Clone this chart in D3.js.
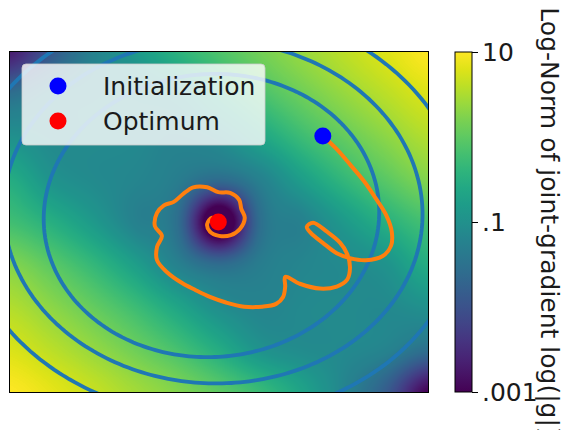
<!DOCTYPE html>
<html>
<head>
<meta charset="utf-8">
<script src="https://cdn.jsdelivr.net/npm/d3@7"></script>
<style>
  body { margin: 0; background: #fff; }
  text { font-family: "DejaVu Sans", sans-serif; }
</style>
</head>
<body>
<div id="chart"></div>
<script>
// ---- data ----
// heatmap grid: log10 of the joint-gradient norm
var gridX = [-3, -2.4, -1.8, -1.2, -0.6, 0, 0.6, 1.2, 1.8, 2.4, 3];
var gridY = [2.45, 1.8375, 1.225, 0.6125, 0, -0.6125, -1.225, -1.8375, -2.45];
var logNorm = [
  [-2.7, -1.9, -1.25, -0.86, -0.44, -0.12, 0.15, 0.38, 0.6, 0.8, 1.0],
  [-1.55, -1.22, -1.12, -1.08, -0.95, -0.54, -0.17, 0.12, 0.37, 0.59, 0.78],
  [-1.0, -1.12, -1.1, -1.12, -1.2, -1.05, -0.65, -0.26, 0.05, 0.31, 0.54],
  [-0.54, -0.95, -1.1, -1.18, -1.32, -1.6, -1.25, -0.77, -0.35, -0.02, 0.25],
  [-0.22, -0.5, -0.85, -1.25, -1.55, -3.5, -1.55, -1.25, -0.85, -0.48, -0.18],
  [0.25, -0.02, -0.35, -0.77, -1.25, -1.6, -1.32, -1.18, -1.1, -0.95, -0.54],
  [0.54, 0.31, 0.05, -0.26, -0.65, -1.05, -1.2, -1.12, -1.1, -1.12, -1.0],
  [0.78, 0.59, 0.37, 0.12, -0.17, -0.54, -0.95, -1.08, -1.12, -1.22, -1.55],
  [1.0, 0.85, 0.66, 0.45, 0.25, 0.0, -0.3, -0.7, -1.2, -1.85, -3.0]
];

// points read on the three loss contours
var innerPts = [[-2.50, 0.06], [-2.40, 0.60], [-2.11, 1.14], [-1.71, 1.61], [-1.13, 1.93], [-0.27, 2.11],
  [0.69, 2.04], [1.64, 1.58], [2.05, 1.06], [2.21, 0.39], [2.20, -0.22], [2.10, -0.69], [1.85, -1.16],
  [1.38, -1.55], [0.66, -1.81], [-0.01, -1.87], [-0.92, -1.80], [-1.49, -1.62], [-1.97, -1.31],
  [-2.25, -0.93], [-2.45, -0.45]];
var middlePts = [[-2.97, -0.65], [-2.60, -1.22], [-2.11, -1.59], [-1.39, -1.98], [-0.67, -2.23],
  [-0.01, -2.34], [0.66, -2.31], [1.38, -2.08], [1.95, -1.74], [2.43, -1.26], [2.71, -0.69], [2.81, 0.03],
  [2.78, 0.63], [2.60, 1.35], [2.21, 1.82], [1.64, 2.16], [-1.42, 2.28], [-2.97, 1.03]];
var outerPts = [[1.41, 2.44], [1.88, 2.26], [2.35, 1.93], [2.74, 1.58], [3.0, 1.36], [3.0, -1.59],
  [2.43, -2.08], [1.95, -2.44], [-2.31, -2.45], [-2.68, -2.13], [-2.97, -1.94], [-2.97, 2.26], [-2.74, 2.44]];

// optimisation trajectory
var trajectory = [[1.49, 1.24], [1.68, 1.06], [1.88, 0.83], [2.08, 0.59], [2.25, 0.34], [2.40, 0.10],
  [2.48, -0.14], [2.47, -0.34], [2.35, -0.49], [2.11, -0.55], [1.88, -0.52], [1.69, -0.45], [1.49, -0.30],
  [1.32, -0.16], [1.26, -0.07], [1.35, -0.01], [1.55, -0.14], [1.74, -0.30], [1.84, -0.46], [1.88, -0.66],
  [1.84, -0.83], [1.69, -0.93], [1.45, -0.96], [1.16, -0.89], [0.95, -0.79], [0.95, -0.93], [0.92, -1.08],
  [0.82, -1.18], [0.62, -1.22], [0.36, -1.22], [0.10, -1.16], [-0.13, -1.08], [-0.34, -0.98], [-0.53, -0.88],
  [-0.75, -0.72], [-0.89, -0.55], [-0.89, -0.36], [-0.82, -0.20], [-0.92, -0.06], [-0.89, 0.13],
  [-0.79, 0.24], [-0.65, 0.29], [-0.52, 0.40], [-0.37, 0.50], [-0.17, 0.50], [-0.01, 0.43], [0.16, 0.42],
  [0.29, 0.32], [0.32, 0.19], [0.37, 0.06], [0.30, -0.10], [0.17, -0.19], [0.00, -0.20], [-0.13, -0.14],
  [-0.17, -0.03], [-0.10, 0.06], [-0.01, 0.0]];

var initPoint = [1.49, 1.24];
var optimumPoint = [-0.01, 0.0];
var legendLabels = ["Initialization", "Optimum"];
var legendColors = ["blue", "red"];
var cbTicks = [10, 0.1, 0.001];
var cbTickLabels = ["10", ".1", ".001"];
var cbLabel = "Log-Norm of joint-gradient log(|g|)";

// ---- layout ----
var width = 562, height = 430;
var plot = {left: 10, top: 52, width: 418, height: 340};
var fontSize = 25;

var x = d3.scaleLinear().domain([-3, 3]).range([plot.left, plot.left + plot.width]);
var y = d3.scaleLinear().domain([-2.45, 2.45]).range([plot.top + plot.height, plot.top]);
var color = d3.scaleSequential(d3.interpolateViridis).domain([-3, 1]).clamp(true);

var svg = d3.select("#chart").append("svg")
  .attr("width", width)
  .attr("height", height);

svg.append("rect").attr("width", width).attr("height", height).attr("fill", "#fff");

svg.append("clipPath").attr("id", "plotclip")
  .append("rect")
  .attr("x", plot.left).attr("y", plot.top)
  .attr("width", plot.width).attr("height", plot.height);

// ---- heatmap (bicubic between grid nodes) ----
var canvas = document.createElement("canvas");
canvas.width = plot.width;
canvas.height = plot.height;
var ctx = canvas.getContext("2d");
var img = ctx.createImageData(plot.width, plot.height);

var gi = d3.scaleLinear().domain([gridX[0], gridX[gridX.length - 1]]).range([0, gridX.length - 1]);
var gj = d3.scaleLinear().domain([gridY[0], gridY[gridY.length - 1]]).range([0, gridY.length - 1]);
var nx = gridX.length, ny = gridY.length;

function cell(j, i) {
  j = Math.max(0, Math.min(ny - 1, j));
  i = Math.max(0, Math.min(nx - 1, i));
  return logNorm[j][i];
}
function cubic(p0, p1, p2, p3, t) {
  return 0.5 * (2 * p1 + (-p0 + p2) * t + (2 * p0 - 5 * p1 + 4 * p2 - p3) * t * t +
    (-p0 + 3 * p1 - 3 * p2 + p3) * t * t * t);
}

// colour lookup table
var lut = [];
for (var k = 0; k < 256; k++) {
  lut.push(d3.rgb(color(-3 + 4 * k / 255)));
}

for (var py = 0; py < plot.height; py++) {
  var fj = Math.max(0, Math.min(ny - 1, gj(y.invert(plot.top + py + 0.5))));
  var j0 = Math.min(ny - 2, Math.floor(fj));
  var ty = fj - j0;
  for (var px = 0; px < plot.width; px++) {
    var fi = Math.max(0, Math.min(nx - 1, gi(x.invert(plot.left + px + 0.5))));
    var i0 = Math.min(nx - 2, Math.floor(fi));
    var tx = fi - i0;
    var rows = [];
    for (var m = -1; m <= 2; m++) {
      rows.push(cubic(cell(j0 + m, i0 - 1), cell(j0 + m, i0), cell(j0 + m, i0 + 1), cell(j0 + m, i0 + 2), tx));
    }
    var v = cubic(rows[0], rows[1], rows[2], rows[3], ty);
    var idx = Math.round(Math.max(0, Math.min(1, (v + 3) / 4)) * 255);
    var c = lut[idx];
    var o = (py * plot.width + px) * 4;
    img.data[o] = c.r; img.data[o + 1] = c.g; img.data[o + 2] = c.b; img.data[o + 3] = 255;
  }
}
ctx.putImageData(img, 0, 0);

svg.append("image")
  .attr("x", plot.left).attr("y", plot.top)
  .attr("width", plot.width).attr("height", plot.height)
  .attr("preserveAspectRatio", "none")
  .attr("href", canvas.toDataURL());

// ---- contours: least-squares ellipse through the read points ----
// a x^2 + b xy + c y^2 + d x + e y = 1
function fitConic(pts) {
  var M = [], rhs = [0, 0, 0, 0, 0];
  for (var r = 0; r < 5; r++) M.push([0, 0, 0, 0, 0]);
  pts.forEach(function(p) {
    var row = [p[0] * p[0], p[0] * p[1], p[1] * p[1], p[0], p[1]];
    for (var r = 0; r < 5; r++) {
      rhs[r] += row[r];
      for (var s = 0; s < 5; s++) M[r][s] += row[r] * row[s];
    }
  });
  // gaussian elimination
  for (var col = 0; col < 5; col++) {
    var piv = col;
    for (var r2 = col + 1; r2 < 5; r2++) if (Math.abs(M[r2][col]) > Math.abs(M[piv][col])) piv = r2;
    var tmp = M[col]; M[col] = M[piv]; M[piv] = tmp;
    var t2 = rhs[col]; rhs[col] = rhs[piv]; rhs[piv] = t2;
    for (var r3 = col + 1; r3 < 5; r3++) {
      var f = M[r3][col] / M[col][col];
      for (var s2 = col; s2 < 5; s2++) M[r3][s2] -= f * M[col][s2];
      rhs[r3] -= f * rhs[col];
    }
  }
  var sol = [0, 0, 0, 0, 0];
  for (var r4 = 4; r4 >= 0; r4--) {
    var acc = rhs[r4];
    for (var s3 = r4 + 1; s3 < 5; s3++) acc -= M[r4][s3] * sol[s3];
    sol[r4] = acc / M[r4][r4];
  }
  var a = sol[0], b = sol[1], c = sol[2], d = sol[3], e = sol[4];
  var det = 4 * a * c - b * b;
  var x0 = (-2 * c * d + b * e) / det;
  var y0 = (-2 * a * e + b * d) / det;
  var K = 1 - (a * x0 * x0 + b * x0 * y0 + c * y0 * y0 + d * x0 + e * y0);
  return {a: a, b: b, c: c, x0: x0, y0: y0, K: K};
}

function quad(cn, p) {
  var u = p[0] - cn.x0, v = p[1] - cn.y0;
  return cn.a * u * u + cn.b * u * v + cn.c * v * v;
}

function ellipsePoints(cn, level) {
  return d3.range(0, 2 * Math.PI, Math.PI / 120).map(function(phi) {
    var cs = Math.cos(phi), sn = Math.sin(phi);
    var r = Math.sqrt(level / (cn.a * cs * cs + cn.b * cs * sn + cn.c * sn * sn));
    return [cn.x0 + r * cs, cn.y0 + r * sn];
  });
}

var innerFit = fitConic(innerPts);
var middleFit = fitConic(middlePts);
// outer contour: same shape as the middle one, level from its points
var outerLevel = d3.mean(outerPts, function(p) { return quad(middleFit, p); });

var contourCurves = [
  ellipsePoints(innerFit, innerFit.K),
  ellipsePoints(middleFit, middleFit.K),
  ellipsePoints(middleFit, outerLevel)
];

var closedLine = d3.line()
  .x(function(d) { return x(d[0]); })
  .y(function(d) { return y(d[1]); })
  .curve(d3.curveLinearClosed);

svg.append("g").attr("clip-path", "url(#plotclip)")
  .selectAll("path")
  .data(contourCurves)
  .enter().append("path")
  .attr("d", closedLine)
  .attr("fill", "none")
  .attr("stroke", "#1f77b4")
  .attr("stroke-width", 3.8);

// ---- trajectory ----
var openLine = d3.line()
  .x(function(d) { return x(d[0]); })
  .y(function(d) { return y(d[1]); })
  .curve(d3.curveCatmullRom.alpha(0.5));

svg.append("path")
  .datum(trajectory)
  .attr("clip-path", "url(#plotclip)")
  .attr("d", openLine)
  .attr("fill", "none")
  .attr("stroke", "#ff7f0e")
  .attr("stroke-width", 4)
  .attr("stroke-linejoin", "round")
  .attr("stroke-linecap", "round");

svg.append("circle")
  .attr("cx", x(initPoint[0])).attr("cy", y(initPoint[1]))
  .attr("r", 8.5).attr("fill", "blue");
svg.append("circle")
  .attr("cx", x(optimumPoint[0])).attr("cy", y(optimumPoint[1]))
  .attr("r", 8.5).attr("fill", "red");

// frame
svg.append("rect")
  .attr("x", plot.left - 0.5).attr("y", plot.top - 0.5)
  .attr("width", plot.width + 1).attr("height", plot.height + 1)
  .attr("fill", "none").attr("stroke", "#000").attr("stroke-width", 1);

// ---- legend ----
var legend = svg.append("g").attr("transform", "translate(22,64)");
legend.append("rect")
  .attr("width", 243).attr("height", 81)
  .attr("rx", 4).attr("ry", 4)
  .attr("fill", "#fff").attr("fill-opacity", 0.8)
  .attr("stroke", "#ccc").attr("stroke-opacity", 0.8);

var items = legend.selectAll("g.item")
  .data(legendLabels)
  .enter().append("g")
  .attr("class", "item")
  .attr("transform", function(d, i) { return "translate(0," + (22 + i * 35) + ")"; });
items.append("circle")
  .attr("cx", 36).attr("cy", 0).attr("r", 8.5)
  .attr("fill", function(d, i) { return legendColors[i]; });
items.append("text")
  .attr("x", 81).attr("y", 9)
  .attr("font-size", fontSize)
  .attr("fill", "#1a1a1a")
  .text(function(d) { return d; });

// ---- colorbar ----
var cb = {left: 455, width: 17};
var cbScale = d3.scaleLog().domain([0.001, 10]).range([plot.top + plot.height, plot.top]);

var grad = svg.append("defs").append("linearGradient")
  .attr("id", "viridis")
  .attr("x1", 0).attr("y1", 1).attr("x2", 0).attr("y2", 0);
grad.selectAll("stop")
  .data(d3.range(0, 1.0001, 0.05))
  .enter().append("stop")
  .attr("offset", function(d) { return d; })
  .attr("stop-color", function(d) { return d3.interpolateViridis(d); });

svg.append("rect")
  .attr("x", cb.left).attr("y", plot.top)
  .attr("width", cb.width).attr("height", plot.height)
  .attr("fill", "url(#viridis)")
  .attr("stroke", "#000").attr("stroke-width", 1);

var cbAxis = d3.axisRight(cbScale)
  .tickValues(cbTicks)
  .tickFormat(function(d, i) { return cbTickLabels[i]; })
  .tickSize(6)
  .tickPadding(4);

var cbAxisG = svg.append("g")
  .attr("transform", "translate(" + (cb.left + cb.width) + ",0)")
  .call(cbAxis);
cbAxisG.select(".domain").remove();
cbAxisG.selectAll("text")
  .attr("font-size", fontSize)
  .attr("font-family", "DejaVu Sans, sans-serif")
  .attr("fill", "#1a1a1a");

svg.append("text")
  .attr("transform", "translate(541," + (plot.top + plot.height / 2) + ") rotate(90)")
  .attr("text-anchor", "middle")
  .attr("font-size", fontSize)
  .attr("fill", "#1a1a1a")
  .text(cbLabel);
</script>
</body>
</html>
